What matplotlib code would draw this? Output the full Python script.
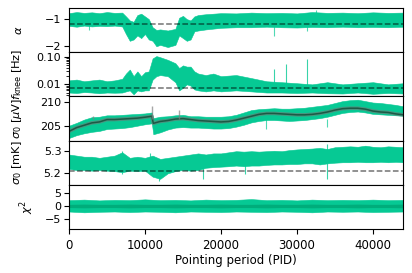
import numpy as np
import matplotlib
matplotlib.use("Agg")
import matplotlib.pyplot as plt
from matplotlib.ticker import FixedLocator, FixedFormatter

# ---- data (band envelopes per pointing period) ----
pid_a = [0, 1000, 2000, 3000, 4000, 5000, 6000, 7000, 7500, 8000, 8500, 9000, 9500,
         10000, 10500, 11000, 11500, 12000, 13000, 14000, 14500, 15000, 15500, 16000,
         16500, 17000, 18000, 19000, 20000, 22000, 24000, 26000, 28000, 30000, 32000,
         34000, 36000, 38000, 40000, 42000, 44000]

alpha_hi = [-0.78, -0.74, -0.77, -0.75, -0.78, -0.74, -0.77, -0.76, -0.9, -1.05, -1.1,
            -0.85, -0.8, -0.9, -1.0, -1.3, -1.4, -1.38, -1.42, -1.36, -0.95, -0.88,
            -1.0, -1.05, -0.9, -0.85, -0.82, -0.8, -0.78, -0.79, -0.76, -0.78, -0.77,
            -0.79, -0.74, -0.77, -0.76, -0.78, -0.75, -0.77, -0.76]
alpha_lo = [-1.25, -1.28, -1.24, -1.27, -1.25, -1.26, -1.24, -1.27, -1.55, -1.8, -1.75,
            -1.6, -1.7, -1.55, -1.75, -1.8, -2.0, -1.95, -2.03, -1.95, -1.6, -1.7,
            -1.8, -1.75, -1.45, -1.42, -1.38, -1.35, -1.32, -1.3, -1.3, -1.28, -1.3,
            -1.31, -1.29, -1.3, -1.28, -1.3, -1.29, -1.3, -1.28]
alpha_ref = -1.17
alpha_spike_pid = [2600, 27000, 31300, 32500]
alpha_spike_lo = [-1.4, -1.63, -1.45, -0.95]
alpha_spike_hi = [-0.9, -1.0, -0.9, -0.67]

fknee_hi = [0.014, 0.015, 0.013, 0.014, 0.015, 0.013, 0.014, 0.016, 0.025, 0.035, 0.02,
            0.03, 0.02, 0.028, 0.03, 0.09, 0.11, 0.1, 0.08, 0.06, 0.04, 0.05, 0.045,
            0.045, 0.03, 0.025, 0.022, 0.025, 0.02, 0.022, 0.017, 0.013, 0.012, 0.011,
            0.01, 0.012, 0.01, 0.011, 0.012, 0.01, 0.011]
fknee_lo = [0.005, 0.0048, 0.0052, 0.005, 0.0047, 0.005, 0.0049, 0.005, 0.0055, 0.006,
            0.0043, 0.006, 0.0055, 0.006, 0.006, 0.015, 0.02, 0.022, 0.02, 0.012, 0.006,
            0.0075, 0.01, 0.009, 0.0065, 0.006, 0.0055, 0.006, 0.0055, 0.006, 0.0055,
            0.005, 0.005, 0.0048, 0.005, 0.0047, 0.0046, 0.005, 0.0045, 0.0048, 0.0046]
fknee_ref = 0.0073
fknee_spike_pid = [27000, 28500, 31300]
fknee_spike_hi = [0.036, 0.055, 0.087]

pid_s = [0, 1000, 2000, 3000, 4000, 5000, 6000, 7000, 8000, 9000, 10000, 10900, 11100,
         12000, 13000, 14000, 15000, 16000, 17000, 18000, 19000, 20000, 21000, 22000,
         23000, 24000, 25000, 26000, 27000, 28000, 29000, 30000, 31000, 32000, 33000,
         34000, 35000, 36000, 37000, 38000, 39000, 40000, 41000, 42000, 43000, 44000]
sig_uv_line = [203.8, 204.6, 205.1, 205.6, 205.8, 206.3, 206.3, 206.4, 206.5, 206.6,
               206.8, 207.0, 205.5, 205.9, 206.1, 206.4, 206.5, 206.3, 206.1, 206.0,
               205.9, 205.8, 205.9, 206.2, 206.6, 207.0, 207.4, 207.6, 207.6, 207.5,
               207.4, 207.3, 207.3, 207.4, 207.6, 207.9, 208.3, 208.6, 208.7, 208.7,
               208.5, 208.1, 207.9, 207.8, 207.5, 207.3]
sig_uv_hi = [205.0, 205.6, 206.3, 206.8, 206.9, 207.2, 207.2, 207.3, 207.4, 207.5, 207.6,
             207.8, 206.6, 206.9, 207.0, 207.2, 207.3, 207.0, 207.0, 206.9, 206.9, 206.9,
             207.0, 207.3, 207.8, 208.3, 208.5, 208.6, 208.7, 208.6, 208.6, 208.7, 208.8,
             209.0, 209.2, 209.4, 209.8, 210.2, 210.4, 210.5, 210.2, 209.9, 209.8, 209.6,
             209.4, 209.1]
sig_uv_lo = [202.4, 203.0, 203.4, 203.7, 203.9, 204.3, 204.4, 204.5, 204.7, 205.0, 205.3,
             205.5, 203.2, 203.6, 204.2, 204.6, 204.7, 204.6, 204.6, 204.5, 204.4, 204.4,
             204.5, 204.8, 205.2, 205.7, 206.0, 206.2, 206.2, 206.1, 206.0, 206.1, 206.2,
             206.4, 206.6, 206.9, 207.3, 207.7, 207.9, 208.0, 207.8, 207.5, 207.4, 207.3,
             207.2, 207.1]
sig_uv_spike_pid = [3100, 10900, 14500]
sig_uv_spike_hi = [207.0, 209.1, 208.4]
sig_uv_dip_pid = [25900, 34000]
sig_uv_dip_lo = [204.4, 204.75]

pid_m = list(range(0, 45000, 1000))
sig_mk_hi = [5.285, 5.28, 5.275, 5.275, 5.27, 5.275, 5.28, 5.295, 5.27, 5.275, 5.27,
             5.28, 5.265, 5.27, 5.275, 5.28, 5.285, 5.29, 5.285, 5.29, 5.29, 5.295, 5.3,
             5.298, 5.3, 5.298, 5.3, 5.302, 5.3, 5.305, 5.308, 5.31, 5.312, 5.315, 5.31,
             5.318, 5.32, 5.322, 5.32, 5.325, 5.32, 5.318, 5.322, 5.32, 5.318]
sig_mk_lo = [5.22, 5.215, 5.215, 5.212, 5.215, 5.212, 5.21, 5.205, 5.212, 5.21, 5.212,
             5.185, 5.175, 5.2, 5.21, 5.215, 5.212, 5.215, 5.225, 5.228, 5.23, 5.232,
             5.235, 5.232, 5.235, 5.235, 5.238, 5.24, 5.24, 5.242, 5.242, 5.245, 5.245,
             5.24, 5.245, 5.248, 5.25, 5.25, 5.252, 5.25, 5.25, 5.252, 5.25, 5.252, 5.25]
sig_mk_ref = 5.209
sig_mk_spike_pid = [7000, 10600, 11800, 17600, 23200, 34000]
sig_mk_spike_lo = [5.196, 5.21, 5.166, 5.174, 5.196, 5.174]
sig_mk_spike_hi = [5.302, 5.29, 5.26, 5.28, 5.29, 5.333]

pid_c = list(range(0, 46000, 2000))
chi_hi = [2.2, 2.4, 2.1, 2.3, 2.2, 2.5, 2.2, 2.3, 2.1, 2.4, 2.2, 2.3, 2.6, 2.2, 2.3,
          2.1, 2.4, 2.2, 2.3, 2.2, 2.4, 2.2, 2.3]
chi_lo = [-2.1, -2.4, -2.2, -2.1, -2.3, -2.1, -2.2, -2.4, -2.1, -2.2, -2.3, -2.1, -2.2,
          -2.3, -2.1, -2.2, -2.4, -2.1, -2.2, -2.1, -2.3, -2.2, -2.1]
chi_core = [0.6, 0.7, 0.6, 0.6, 0.7, 0.6, 0.6, 0.7, 0.6, 0.6, 0.7, 0.6, 0.6, 0.7, 0.6,
            0.6, 0.7, 0.6, 0.6, 0.7, 0.6, 0.6, 0.7]

green = "#06c994"
dark_green = "#1c5a45"
core_green = "#00ad7b"

fig, axes = plt.subplots(5, 1, sharex=True, figsize=(4.12, 2.73), dpi=100)
fig.subplots_adjust(left=0.1675, right=0.978, top=0.9707, bottom=0.1612, hspace=0)
ax1, ax2, ax3, ax4, ax5 = axes

def dashed(ax, y):
    ax.axhline(y, color="k", ls="--", lw=1.1, alpha=0.55, zorder=5)

# alpha
ax1.fill_between(pid_a, alpha_lo, alpha_hi, color=green, lw=0.4, edgecolor=green)
ax1.vlines(alpha_spike_pid, alpha_spike_lo, alpha_spike_hi, color=green, lw=0.8, alpha=0.7)
dashed(ax1, alpha_ref)
ax1.set_ylim(-2.22, -0.59)
ax1.set_yticks([-2, -1])
ax1.set_ylabel(r"$\alpha$")

# f_knee
ax2.set_yscale("log")
ax2.fill_between(pid_a, fknee_lo, fknee_hi, color=green, lw=0.4, edgecolor=green)
ax2.vlines(fknee_spike_pid, fknee_ref, fknee_spike_hi, color=green, lw=0.8, alpha=0.8)
dashed(ax2, fknee_ref)
ax2.set_ylim(0.0036, 0.153)
ax2.yaxis.set_major_locator(FixedLocator([0.01, 0.1]))
ax2.yaxis.set_major_formatter(FixedFormatter(["0.01", "0.10"]))
ax2.set_ylabel(r"$f_{\rm knee}$ [Hz]")

# sigma0 uV
ax3.fill_between(pid_s, sig_uv_lo, sig_uv_hi, color=green, lw=0.4, edgecolor=green)
ax3.vlines(sig_uv_dip_pid, sig_uv_dip_lo, 206.5, color=green, lw=0.8, alpha=0.7)
ax3.plot(pid_s, sig_uv_line, color="0.45", lw=2.6, alpha=0.6)
ax3.plot(pid_s, sig_uv_line, color=dark_green, lw=1.1)
ax3.vlines(sig_uv_spike_pid, 206.5, sig_uv_spike_hi, color="0.5", lw=1.0, alpha=0.7)
ax3.set_ylim(201.85, 211.2)
ax3.set_yticks([205, 210])
ax3.set_ylabel(r"$\sigma_0$ [$\mu$V]")

# sigma0 mK
ax4.fill_between(pid_m, sig_mk_lo, sig_mk_hi, color=green, lw=0.4, edgecolor=green)
ax4.vlines(sig_mk_spike_pid, sig_mk_spike_lo, sig_mk_spike_hi, color=green, lw=0.8, alpha=0.8)
dashed(ax4, sig_mk_ref)
ax4.set_ylim(5.148, 5.348)
ax4.set_yticks([5.2, 5.3])
ax4.set_ylabel(r"$\sigma_0$ [mK]")

# chi2
ax5.fill_between(pid_c, chi_lo, chi_hi, color=green, lw=0.4, edgecolor=green)
ax5.fill_between(pid_c, [-c for c in chi_core], chi_core, color=core_green, lw=0)
ax5.set_ylim(-8.7, 8.0)
ax5.set_yticks([-5, 0, 5])
ax5.set_ylabel(r"$\chi^2$")
ax5.set_xlim(0, 43950)
ax5.set_xticks([0, 10000, 20000, 30000, 40000])
ax5.set_xlabel("Pointing period (PID)", fontsize=8.5, labelpad=2)
ax5.tick_params(axis="x", labelsize=8.5, length=3.5)

for ax in axes:
    ax.tick_params(axis="y", labelsize=8, length=3.5, pad=2)
    ax.yaxis.label.set_size(8.2)
    ax.yaxis.set_label_coords(-0.135, 0.5)
for ax in axes[:4]:
    ax.tick_params(axis="x", bottom=False)
ax5.yaxis.set_label_coords(-0.1, 0.5)

fig.savefig("out.png", dpi=100)
